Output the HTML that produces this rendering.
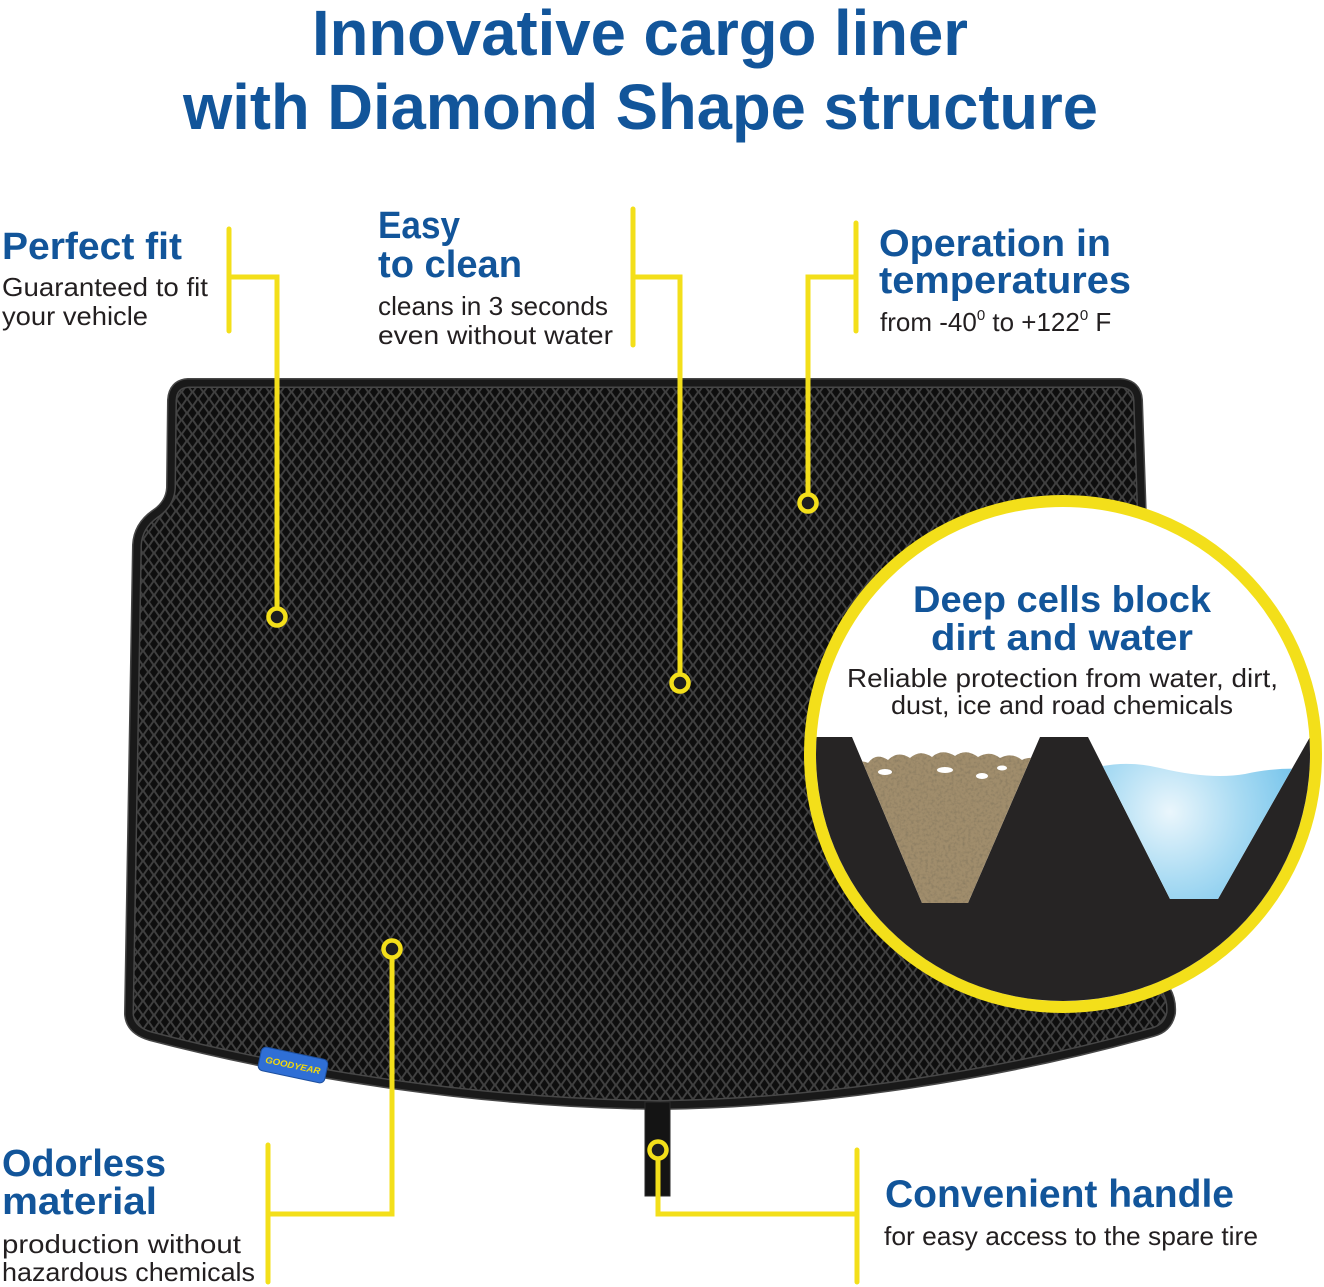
<!DOCTYPE html>
<html>
<head>
<meta charset="utf-8">
<style>
  html,body{margin:0;padding:0;background:#fff;}
  svg{display:block;}
  .h{font-family:"Liberation Sans",sans-serif;font-weight:bold;fill:#12559a;}
  .b{font-family:"Liberation Sans",sans-serif;fill:#231f20;}
</style>
</head>
<body>
<svg width="1324" height="1287" viewBox="0 0 1324 1287" xmlns="http://www.w3.org/2000/svg">
  <defs>
    <pattern id="dia" width="11" height="14" patternUnits="userSpaceOnUse">
      <rect width="11" height="14" fill="#404040"/>
      <polygon points="5.5,1.2 9.5,7 5.5,12.8 1.5,7" fill="#0e0e0e"/>
      <polygon points="0,-5.8 4,0 0,5.8 -4,0" fill="#0e0e0e"/>
      <polygon points="11,-5.8 15,0 11,5.8 7,0" fill="#0e0e0e"/>
      <polygon points="0,8.2 4,14 0,19.8 -4,14" fill="#0e0e0e"/>
      <polygon points="11,8.2 15,14 11,19.8 7,14" fill="#0e0e0e"/>
    </pattern>
    <clipPath id="cc"><circle cx="1063" cy="754" r="247"/></clipPath>
    <clipPath id="cell1"><polygon points="852,737 922,903 968,903 1040,737"/></clipPath>
    <clipPath id="cell2"><polygon points="1088,737 1170,899 1218,899 1310,737"/></clipPath>
    <radialGradient id="wat" cx="1170" cy="812" r="140" gradientUnits="userSpaceOnUse">
      <stop offset="0" stop-color="#eaf6fc"/>
      <stop offset="0.5" stop-color="#a9dbf3"/>
      <stop offset="1" stop-color="#6fc1ea"/>
    </radialGradient>
    <filter id="grit" x="0" y="0" width="100%" height="100%">
      <feTurbulence type="fractalNoise" baseFrequency="0.35" numOctaves="2" seed="4" result="n"/>
      <feColorMatrix in="n" type="matrix" values="0 0 0 0 0.25  0 0 0 0 0.2  0 0 0 0 0.12  0 0 0 -2.2 1.25" result="d"/>
      <feComposite in="d" in2="SourceGraphic" operator="in" result="dd"/>
      <feMerge><feMergeNode in="SourceGraphic"/><feMergeNode in="dd"/></feMerge>
    </filter>
  </defs>

  <!-- Title -->
  <text class="h" x="312" y="55" font-size="64" textLength="656" lengthAdjust="spacingAndGlyphs">Innovative cargo liner</text>
  <text class="h" x="183" y="129" font-size="64" textLength="915" lengthAdjust="spacingAndGlyphs">with Diamond Shape structure</text>

  <!-- Mat -->
  <path d="M 188 383 L 1120 383 Q 1137 384 1138 400 L 1142 520 L 1166 990 Q 1172 1000 1171 1013 Q 1168 1028 1153 1032 C 1000 1075 820 1103 660 1105 C 480 1103 300 1075 150 1036 Q 130 1030 129 1014 L 137 545 Q 138 526 155 514 Q 170 504 171 488 L 172 400 Q 173 384 188 383 Z"
        fill="url(#dia)" stroke="#474747" stroke-width="10" stroke-linejoin="round"/>
  <path d="M 188 383 L 1120 383 Q 1137 384 1138 400 L 1142 520 L 1166 990 Q 1172 1000 1171 1013 Q 1168 1028 1153 1032 C 1000 1075 820 1103 660 1105 C 480 1103 300 1075 150 1036 Q 130 1030 129 1014 L 137 545 Q 138 526 155 514 Q 170 504 171 488 L 172 400 Q 173 384 188 383 Z"
        fill="none" stroke="#191919" stroke-width="7" stroke-linejoin="round"/>

  <!-- Handle -->
  <rect x="645" y="1102" width="25" height="94" fill="#141414" stroke="#2a2a2a" stroke-width="1"/>

  <!-- Goodyear badge -->
  <g transform="translate(293,1065) rotate(12)">
    <rect x="-34" y="-12" width="68" height="24" rx="5" fill="#2f6fd6" stroke="#1d4f9e" stroke-width="1"/>
    <text x="0" y="3.5" text-anchor="middle" font-family="Liberation Sans, sans-serif" font-weight="bold" font-style="italic" font-size="9" fill="#f3d90c" textLength="56" lengthAdjust="spacingAndGlyphs">GOODYEAR</text>
  </g>

  <!-- Circle inset -->
  <circle cx="1063" cy="754" r="253" fill="#ffffff" stroke="#f3df1a" stroke-width="12"/>
  <g clip-path="url(#cc)">
    <polygon points="790,737 852,737 922,903 968,903 1040,737 1088,737 1170,899 1218,899 1310,737 1330,737 1330,1020 790,1020" fill="#262424"/>
    <g clip-path="url(#cell1)">
      <g filter="url(#grit)">
        <path d="M 850 770 Q 858 758 868 763 Q 876 752 888 760 Q 898 750 910 758 Q 920 749 932 757 Q 942 748 955 756 Q 966 748 978 757 Q 990 750 1000 758 Q 1012 752 1022 760 Q 1032 755 1045 762 L 1045 910 L 850 910 Z" fill="#a08d6c"/>
      </g>
      <ellipse cx="885" cy="772" rx="7" ry="3" fill="#ffffff"/>
      <ellipse cx="945" cy="770" rx="8" ry="3" fill="#ffffff"/>
      <ellipse cx="982" cy="776" rx="6" ry="3" fill="#ffffff"/>
      <ellipse cx="1002" cy="768" rx="5" ry="2.5" fill="#ffffff"/>
    </g>
    <g clip-path="url(#cell2)">
      <path d="M 1080 772 Q 1120 758 1160 768 Q 1210 780 1245 774 Q 1280 766 1320 770 L 1320 910 L 1080 910 Z" fill="url(#wat)"/>
    </g>
  </g>
  <text class="h" x="913" y="612" font-size="37" textLength="298" lengthAdjust="spacingAndGlyphs">Deep cells block</text>
  <text class="h" x="931" y="650" font-size="37" textLength="262" lengthAdjust="spacingAndGlyphs">dirt and water</text>
  <text class="b" x="847" y="687" font-size="26" textLength="431" lengthAdjust="spacingAndGlyphs">Reliable protection from water, dirt,</text>
  <text class="b" x="891" y="714" font-size="26" textLength="342" lengthAdjust="spacingAndGlyphs">dust, ice and road chemicals</text>

  <!-- Connectors -->
  <g stroke="#f3df1a" stroke-width="5" fill="none" stroke-linejoin="miter">
    <line x1="229" y1="229" x2="229" y2="331" stroke-linecap="round"/>
    <polyline points="229,277 277,277 277,608"/>
    <line x1="633" y1="209" x2="633" y2="345" stroke-linecap="round"/>
    <polyline points="633,277 680,277 680,674"/>
    <line x1="856" y1="223" x2="856" y2="331" stroke-linecap="round"/>
    <polyline points="856,277 808,277 808,494"/>
    <line x1="268" y1="1145" x2="268" y2="1282" stroke-linecap="round"/>
    <polyline points="268,1214 392,1214 392,958"/>
    <line x1="857" y1="1150" x2="857" y2="1282" stroke-linecap="round"/>
    <polyline points="857,1214 658,1214 658,1159"/>
  </g>
  <g stroke="#f3df1a" stroke-width="4.5" fill="#1e1e1e">
    <circle cx="277" cy="617" r="8.5"/>
    <circle cx="680" cy="683" r="8.5"/>
    <circle cx="808" cy="503" r="8.5"/>
    <circle cx="392" cy="949" r="8.5"/>
    <circle cx="658" cy="1150" r="8.5"/>
  </g>

  <!-- Labels -->
  <text class="h" x="2" y="259" font-size="38" textLength="180" lengthAdjust="spacingAndGlyphs">Perfect fit</text>
  <text class="b" x="2" y="296" font-size="26" textLength="206" lengthAdjust="spacingAndGlyphs">Guaranteed to fit</text>
  <text class="b" x="2" y="325" font-size="26" textLength="146" lengthAdjust="spacingAndGlyphs">your vehicle</text>

  <text class="h" x="378" y="238" font-size="38" textLength="82" lengthAdjust="spacingAndGlyphs">Easy</text>
  <text class="h" x="378" y="277" font-size="38" textLength="144" lengthAdjust="spacingAndGlyphs">to clean</text>
  <text class="b" x="378" y="315" font-size="26" textLength="230" lengthAdjust="spacingAndGlyphs">cleans in 3 seconds</text>
  <text class="b" x="378" y="344" font-size="26" textLength="235" lengthAdjust="spacingAndGlyphs">even without water</text>

  <text class="h" x="879" y="256" font-size="38" textLength="232" lengthAdjust="spacingAndGlyphs">Operation in</text>
  <text class="h" x="879" y="293" font-size="38" textLength="252" lengthAdjust="spacingAndGlyphs">temperatures</text>
  <text class="b" x="880" y="331" font-size="26">from -40<tspan font-size="15" dy="-11">0</tspan><tspan dy="11"> to +122</tspan><tspan font-size="15" dy="-11">0</tspan><tspan dy="11"> F</tspan></text>

  <text class="h" x="2" y="1176" font-size="38" textLength="164" lengthAdjust="spacingAndGlyphs">Odorless</text>
  <text class="h" x="2" y="1214" font-size="38" textLength="155" lengthAdjust="spacingAndGlyphs">material</text>
  <text class="b" x="2" y="1253" font-size="26" textLength="239" lengthAdjust="spacingAndGlyphs">production without</text>
  <text class="b" x="2" y="1281" font-size="26" textLength="253" lengthAdjust="spacingAndGlyphs">hazardous chemicals</text>

  <text class="h" x="885" y="1207" font-size="39" textLength="349" lengthAdjust="spacingAndGlyphs">Convenient handle</text>
  <text class="b" x="884" y="1245" font-size="26" textLength="374" lengthAdjust="spacingAndGlyphs">for easy access to the spare tire</text>
</svg>
</body>
</html>
